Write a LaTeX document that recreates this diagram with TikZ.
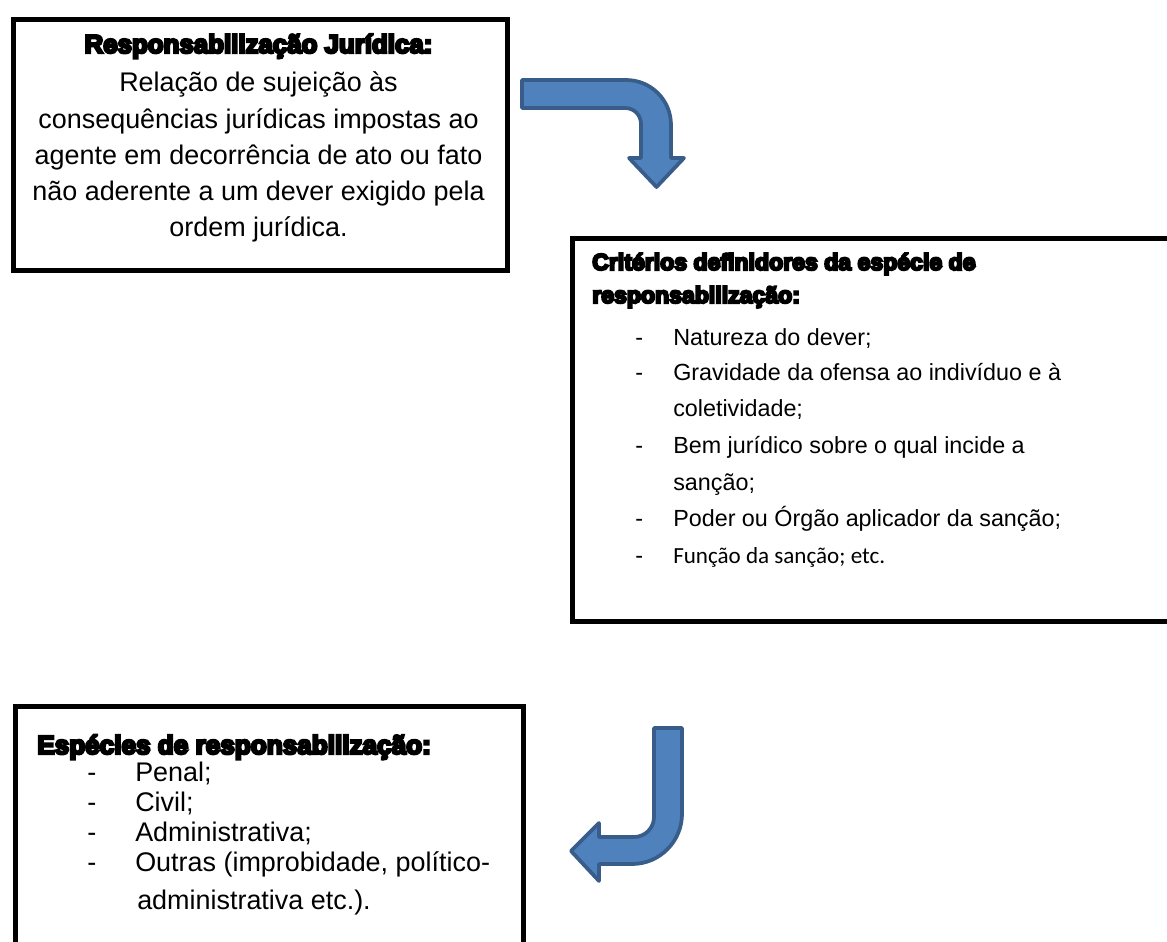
\documentclass[tikz,border=0pt]{standalone}
\usepackage{fontspec}
\setmainfont{Liberation Sans}
\newfontfamily\titulo[FakeBold=9]{Liberation Sans Bold}
\newfontfamily\calibri{Carlito}
\definecolor{setafill}{HTML}{4F81BD}
\definecolor{setaline}{HTML}{385D8A}

\tikzset{
  caixa/.style={draw=black, line width=3.75pt, inner sep=0pt, anchor=north west},
  seta/.style={fill=setafill, draw=setaline, line width=2.8pt, line join=round},
  cab/.style={inner sep=0pt, font=\titulo\fontsize{19.4}{24}\selectfont},
  cabm/.style={inner sep=0pt, anchor=base west, font=\titulo\fontsize{17.3}{22}\selectfont},
  txtg/.style={inner sep=0pt, font=\fontsize{20.2}{24}\selectfont},
  txtm/.style={inner sep=0pt, anchor=base west, font=\fontsize{17.5}{21}\selectfont},
}

\begin{document}
\begin{tikzpicture}[x=0.75pt, y=-0.75pt]
\useasboundingbox (0,0) rectangle (1167,942);
\clip (0,0) rectangle (1167,942);

% caixas
\node[caixa, minimum width=494*0.75pt, minimum height=250.5*0.75pt] (resp) at (10.5,17) {};
\node[caixa, minimum width=610*0.75pt, minimum height=383.5*0.75pt] (crit) at (569.5,235.5) {};
\node[caixa, minimum width=508*0.75pt, minimum height=262*0.75pt] (esp) at (13,704) {};

% conceito
\node[cab, anchor=base] (resp-tit) at (258.5,53) {Responsabilização Jurídica:};
\foreach \linha [count=\i from 0] in {Relação de sujeição às, consequências jurídicas impostas ao, agente em decorrência de ato ou fato, não aderente a um dever exigido pela, ordem jurídica.}
  \node[txtg, anchor=base] (resp-\i) at (258.5,92+36*\i) {\linha};

% criterios
\node[cabm] (crit-tit1) at (592,270) {Critérios definidores da espécie de};
\node[cabm] (crit-tit2) at (592,303) {responsabilização:};
\foreach \y [count=\i] in {345,380,453,526,563}
  \node[txtm] (crit-h\i) at (635,\y) {-};
\node[txtm] (crit-1) at (673,345) {Natureza do dever;};
\node[txtm] (crit-2) at (673,380) {Gravidade da ofensa ao indivíduo e à};
\node[txtm] (crit-2b) at (673,416) {coletividade;};
\node[txtm] (crit-3) at (673,453) {Bem jurídico sobre o qual incide a};
\node[txtm] (crit-3b) at (673,490) {sanção;};
\node[txtm] (crit-4) at (673,526) {Poder ou Órgão aplicador da sanção;};
\node[txtm, font=\calibri\fontsize{17.3}{21}\selectfont] (crit-5) at (673,563) {Função da sanção; etc.};

% especies
\node[cab, anchor=base west, font=\titulo\fontsize{19.6}{24}\selectfont] (esp-tit) at (37,754) {Espécies de responsabilização:};
\foreach \y [count=\i] in {781,811,841,871}
  \node[txtg, anchor=base west] (esp-h\i) at (87,\y) {-};
\node[txtg, anchor=base west] (esp-1) at (135,781) {Penal;};
\node[txtg, anchor=base west] (esp-2) at (135,811) {Civil;};
\node[txtg, anchor=base west] (esp-3) at (135,841) {Administrativa;};
\node[txtg, anchor=base west] (esp-4) at (135,871) {Outras (improbidade, político-};
\node[txtg, anchor=base west] (esp-4b) at (137,909) {administrativa etc.).};

% setas
\draw[seta] (522,80) -- (626,80) .. controls (651,80) and (671,100) .. (671,125)
  -- (671,158) -- (684,158) -- (656.5,187) -- (629,158) -- (641,158) -- (641,124)
  .. controls (641,115) and (634,108) .. (625,108) -- (522,108) -- cycle;
\draw[seta] (654,728) -- (682,728) -- (682,814) .. controls (682,841) and (660,864) .. (632,864)
  -- (599,864) -- (599,881) -- (571,851) -- (599,823) -- (599,837) -- (634,837)
  .. controls (645,837) and (654,828) .. (654,817) -- cycle;

\end{tikzpicture}
\end{document}
